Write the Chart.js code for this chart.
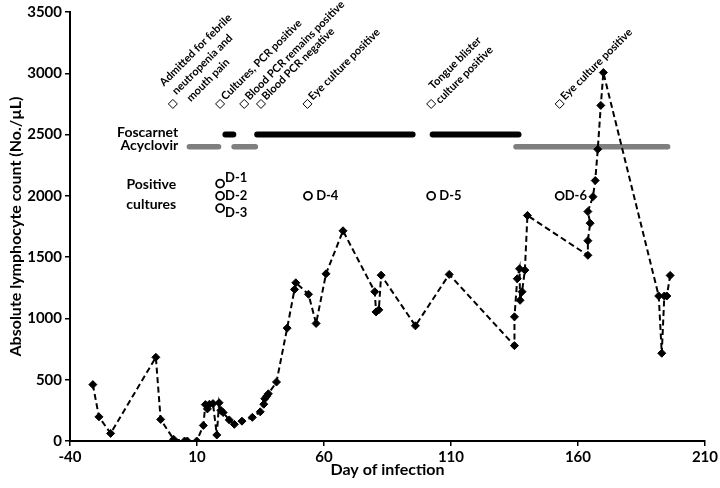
<!DOCTYPE html>
<html lang="en">
<head>
  <meta charset="UTF-8">
  <title>Absolute lymphocyte count</title>
  <script src="https://cdn.jsdelivr.net/npm/chart.js"></script>
  <style>
    body { margin: 0; background: #fff; }
  </style>
</head>
<body>
  <canvas id="chart" width="720" height="488"></canvas>

  <script>
    // lymphocyte counts by day of infection
    const days = [-31, -28.6, -24, -6.2, -4.3, 0.8, 5.1, 6.2, 9.9,
      12.5, 13.3, 14.1, 14.9, 16.3, 17.8, 18.7, 19.4, 20.3, 22.7, 24.7, 27.7, 31.8, 34.9,
      36.3, 36.7, 37.4, 38.1, 41.3, 45.5, 48.4, 48.9, 53.9, 56.9, 60.8, 67.5,
      80, 80.5, 81.6, 82.5, 96, 109.3,
      135, 135, 136.1, 137, 137.2, 138, 139.1, 140.1,
      163.9, 163.9, 164.8, 163.9, 165.9, 166.8, 167.8, 169, 170,
      191.8, 193, 194, 195, 196.3];
    const counts = [460, 197, 62, 683, 176, 14, 0, 0, 0,
      127, 297, 262, 300, 305, 49, 312, 250, 232, 172, 136, 162, 193, 238,
      300, 345, 365, 385, 481, 921, 1237, 1291, 1197, 959, 1364, 1715,
      1218, 1053, 1070, 1353, 940, 1359,
      778, 1013, 1324, 1405, 1148, 1218, 1394, 1840,
      1515, 1634, 1777, 1872, 1993, 2125, 2380, 2738, 3006,
      1183, 716, 1183, 1183, 1351];

    // clinical events
    const eventDays = [0.5, 19.1, 28.6, 35.2, 53.5, 102.2, 152.8];
    const eventLevel = 2750;
    const eventLabels = [
      ["Admitted for febrile", " neutropenia and", "   mouth pain"],
      ["Cultures, PCR positive"],
      ["Blood PCR remains positive"],
      ["Blood PCR negative"],
      ["Eye culture positive"],
      ["  Tongue blister", "culture positive"],
      ["Eye culture positive"]
    ];

    // treatment periods [start, end]
    const foscarnet = [[21.2, 24.3], [33.7, 94.9], [102.8, 136.6]];
    const foscarnetLevel = 2500;
    const acyclovir = [[7, 18.5], [24.6, 33], [135.6, 195.3]];
    const acyclovirLevel = 2400;

    // positive cultures
    const cultureDays = [19.1, 19.1, 19.1, 53.7, 102.2, 152.8];
    const cultureLevels = [2100, 2000, 1900, 2000, 2000, 2000];
    const cultureLabels = ["D-1", "D-2", "D-3", " D-4", " D-5", "D-6"];

    const xTicks = [-40, 10, 60, 110, 160, 210];
    const yTicks = [0, 500, 1000, 1500, 2000, 2500, 3000, 3500];

    const FONT = "Lato, 'Open Sans', sans-serif";

    function segments(list, level) {
      const pts = [];
      list.forEach(([s, e]) => {
        pts.push({ x: s, y: level }, { x: e, y: level }, { x: e, y: null });
      });
      return pts;
    }

    const annotations = {
      id: "annotations",
      afterDatasetsDraw(chart) {
        const { ctx, scales: { x, y } } = chart;
        ctx.save();
        ctx.fillStyle = "#000";

        // rotated event labels
        ctx.font = "bold 11px " + FONT;
        ctx.textAlign = "left";
        ctx.textBaseline = "middle";
        eventLabels.forEach((lines, i) => {
          const n = lines.length;
          const v0 = -2 - (n - 1) * 2.5;
          ctx.save();
          ctx.translate(x.getPixelForValue(eventDays[i]), y.getPixelForValue(eventLevel));
          ctx.rotate(-Math.PI / 4);
          lines.forEach((line, j) => {
            ctx.fillText(line, 6, v0 + (j - (n - 1) / 2) * 15);
          });
          ctx.restore();
        });

        // drug names
        ctx.font = "bold 14px " + FONT;
        ctx.textAlign = "right";
        ctx.fillText("Foscarnet", x.getPixelForValue(2.6), y.getPixelForValue(foscarnetLevel) - 2);
        ctx.fillText("Acyclovir", x.getPixelForValue(2.6), y.getPixelForValue(acyclovirLevel) - 1);

        // positive cultures title
        ctx.textAlign = "center";
        const px = x.getPixelForValue(-8);
        const py = y.getPixelForValue(2010);
        ctx.fillText("Positive", px, py - 10);
        ctx.fillText("cultures", px, py + 10);

        // culture labels
        ctx.font = "bold 13px " + FONT;
        ctx.textAlign = "left";
        const dy = [-6, 0, 5, 0, 0, 0];
        cultureLabels.forEach((lab, i) => {
          ctx.fillText(lab, x.getPixelForValue(cultureDays[i]) + 5,
            y.getPixelForValue(cultureLevels[i]) + dy[i]);
        });
        ctx.restore();
      }
    };

    const tickFont = { family: FONT, size: 15, weight: 700 };

    const ctx = document.getElementById("chart").getContext("2d");
    new Chart(ctx, {
      type: "scatter",
      data: {
        datasets: [
          {
            label: "Lymphocytes",
            data: days.map((d, i) => ({ x: d, y: counts[i] })),
            showLine: true,
            borderColor: "#000",
            borderWidth: 2,
            borderDash: [6, 3.5],
            pointStyle: "rectRot",
            pointRadius: 4,
            pointBackgroundColor: "#000",
            pointBorderColor: "#000",
            pointBorderWidth: 1
          },
          {
            label: "Events",
            data: eventDays.map(d => ({ x: d, y: eventLevel })),
            pointStyle: "rectRot",
            pointRadius: 4.5,
            pointBackgroundColor: "#fff",
            pointBorderColor: "#000",
            pointBorderWidth: 1
          },
          {
            label: "Cultures",
            data: cultureDays.map((d, i) => ({ x: d, y: cultureLevels[i] })),
            pointStyle: "circle",
            pointRadius: 4,
            pointBackgroundColor: "#fff",
            pointBorderColor: "#000",
            pointBorderWidth: 1.8
          },
          {
            label: "Foscarnet",
            data: segments(foscarnet, foscarnetLevel),
            showLine: true,
            spanGaps: false,
            borderColor: "#000",
            borderWidth: 6,
            borderCapStyle: "round",
            pointRadius: 0
          },
          {
            label: "Acyclovir",
            data: segments(acyclovir, acyclovirLevel),
            showLine: true,
            spanGaps: false,
            borderColor: "#7f7f7f",
            borderWidth: 5.5,
            borderCapStyle: "round",
            pointRadius: 0
          }
        ]
      },
      options: {
        responsive: false,
        animation: false,
        layout: { padding: { top: 9, right: 13, left: 0, bottom: 0 } },
        plugins: { legend: { display: false }, tooltip: { enabled: false } },
        scales: {
          x: {
            type: "linear",
            min: xTicks[0],
            max: xTicks[xTicks.length - 1],
            afterBuildTicks: s => { s.ticks = xTicks.map(v => ({ value: v })); },
            afterFit: s => { s.height = 47; },
            border: { color: "#000", width: 2 },
            grid: { drawOnChartArea: false, color: "#000", lineWidth: 1.5, tickLength: 5 },
            ticks: { color: "#000", padding: 2, font: tickFont, callback: v => String(v) },
            title: {
              display: true,
              text: "Day of infection",
              color: "#000",
              padding: { top: 0, bottom: 9 },
              font: { family: FONT, size: 16, weight: 700 }
            }
          },
          y: {
            min: yTicks[0],
            max: yTicks[yTicks.length - 1],
            afterBuildTicks: s => { s.ticks = yTicks.map(v => ({ value: v })); },
            afterFit: s => { s.width = 70; },
            border: { color: "#000", width: 2 },
            grid: { drawOnChartArea: false, color: "#000", lineWidth: 1.5, tickLength: 5 },
            ticks: { color: "#000", padding: 3, font: tickFont, callback: v => String(v) },
            title: {
              display: true,
              text: "Absolute lymphocyte count (No./µL)",
              color: "#000",
              padding: { top: 6, bottom: 0 },
              font: { family: FONT, size: 16, weight: 700 }
            }
          }
        }
      },
      plugins: [annotations]
    });
  </script>
</body>
</html>
